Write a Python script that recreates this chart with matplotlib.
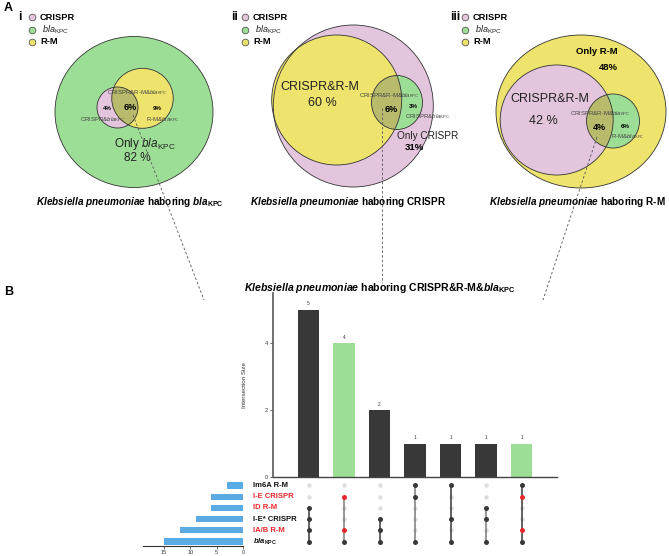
import matplotlib
matplotlib.use('Agg')
import matplotlib.pyplot as plt
from matplotlib.patches import Ellipse
import matplotlib.transforms as mtransforms

plt.rcParams['font.family'] = ['Liberation Sans', 'DejaVu Sans']
plt.rcParams['mathtext.fontset'] = 'custom'
plt.rcParams['mathtext.rm'] = 'Liberation Sans'
plt.rcParams['mathtext.it'] = 'Liberation Sans:italic'
plt.rcParams['mathtext.bf'] = 'Liberation Sans:bold'
plt.rcParams['mathtext.bfit'] = 'Liberation Sans:italic:bold'

# ---------------- data ----------------
legend_sets = ['CRISPR', r'$\mathit{bla}_{\mathrm{KPC}}$', 'R-M']
# panel i: K. pneumoniae harboring blaKPC
panel_i_regions = ['CRISPR&bla', 'CRISPR&R-M&bla', 'R-M&bla', 'Only bla']
panel_i_pct = [4, 6, 9, 82]
# panel ii: K. pneumoniae harboring CRISPR
panel_ii_regions = ['CRISPR&R-M', 'CRISPR&R-M&bla', 'CRISPR&bla', 'Only CRISPR']
panel_ii_pct = [60, 6, 3, 31]
# panel iii: K. pneumoniae harboring R-M
panel_iii_regions = ['CRISPR&R-M', 'CRISPR&R-M&bla', 'R-M&bla', 'Only R-M']
panel_iii_pct = [42, 4, 6, 48]

# panel B: UpSet
upset_sets = ['Im6A R-M', 'I-E CRISPR', 'ID R-M', 'I-E* CRISPR', 'IA/B R-M',
              r'$\mathbfit{bla}_{\mathbf{KPC}}$']
set_sizes = [3, 6, 6, 9, 12, 15]
red_sets = [1, 2, 4]
intersection_sizes = [5, 4, 2, 1, 1, 1, 1]
intersection_members = [[2, 3, 4, 5], [1, 4, 5], [3, 4, 5], [0, 1, 5],
                        [0, 3, 5], [2, 3, 5], [0, 1, 4, 5]]
highlight_cols = [False, True, False, False, False, False, True]
ytick_vals = [0, 2, 4]
set_ticks = [15, 10, 5, 0]

# ---------------- style ----------------
GREEN = '#9DDE97'
PINK = '#E3C5DE'
YELLOW = '#EEE36C'
OLIVE = '#B8BB6B'
EDGE = '#333333'
RED = '#E8262B'
DARK = '#383838'
BLUE = '#5AABE3'

W, H = 669, 556
fig = plt.figure(figsize=(W / 100, H / 100), dpi=100)
ax0 = fig.add_axes([0, 0, 1, 1])
ax0.set_xlim(0, W)
ax0.set_ylim(H, 0)
ax0.axis('off')


def px_axes(l, t, w, h):
    return fig.add_axes([l / W, 1 - (t + h) / H, w / W, h / H])


def ell(c, w, h, fc, z, clip=None):
    e = Ellipse(c, w, h, facecolor=fc, edgecolor='none', zorder=z)
    ax0.add_patch(e)
    if clip is not None:
        e.set_clip_path(clip)
    return e


def edge(c, w, h, z=5):
    ax0.add_patch(Ellipse(c, w, h, facecolor='none', edgecolor=EDGE, lw=0.6, zorder=z))


# ---- panel labels ----
ax0.text(4, 2, 'A', fontsize=9, fontweight='bold', va='top', ha='left')
ax0.text(4, 292, 'B', fontsize=9, fontweight='bold', va='center', ha='left')
for x, s in [(20, 'i'), (235, 'ii'), (455, 'iii')]:
    ax0.text(x, 17, s, fontsize=8.5, fontweight='bold', va='center', ha='center')

# ---- legends ----
leg_cols = [PINK, GREEN, YELLOW]
for lx in [32, 245, 465]:
    for k, (s, c) in enumerate(zip(legend_sets, leg_cols)):
        yy = 17 + k * 12.5
        ax0.plot(lx, yy, 'o', ms=4.8, mfc=c, mec='#555555', mew=0.6, zorder=6)
        if k == 1:
            ax0.text(lx + 10, yy, s, fontsize=6.5, va='center', ha='left', color='#222222')
        else:
            ax0.text(lx + 8, yy, s, fontsize=6.7, fontweight='bold', va='center', ha='left')

# ---- panel i ----
c_big, c_p, c_y = (134, 112), (117.5, 107.5), (142.5, 98.3)
ell(c_big, 158, 151, GREEN, 1)
ell(c_p, 41, 41, PINK, 2)
yel = ell(c_y, 61.5, 60, YELLOW, 2)
ell(c_p, 41, 41, OLIVE, 3, clip=yel)
edge(c_big, 158, 151)
edge(c_p, 41, 41)
edge(c_y, 61.5, 60)
ax0.text(107, 108, f'{panel_i_pct[0]}%', fontsize=4.5, fontweight='bold', ha='center', va='center', zorder=7)
ax0.text(130, 108, f'{panel_i_pct[1]}%', fontsize=6.5, fontweight='bold', ha='center', va='center', zorder=7)
ax0.text(157, 108, f'{panel_i_pct[2]}%', fontsize=4.5, fontweight='bold', ha='center', va='center', zorder=7)
ax0.text(137, 93, r'CRISPR&R-M&$\mathit{bla}_{\mathrm{KPC}}$', fontsize=4.3, color='#444444', ha='center', va='center', zorder=7)
ax0.text(103, 120, r'CRISPR&$\mathit{bla}_{\mathrm{KPC}}$', fontsize=4.3, color='#444444', ha='center', va='center', zorder=7)
ax0.text(163, 120, r'R-M&$\mathit{bla}_{\mathrm{KPC}}$', fontsize=4.3, color='#444444', ha='center', va='center', zorder=7)
ax0.text(145, 144, r'Only $\mathit{bla}_{\mathrm{KPC}}$', fontsize=8.5, ha='center', va='center', zorder=7, color='#222222')
ax0.text(137, 158, f'{panel_i_pct[3]} %', fontsize=8.5, ha='center', va='center', zorder=7, color='#222222')

# ---- panel ii ----
c_big2, c_y2, c_g2 = (353.3, 106), (336.7, 100), (397, 102.5)
ell(c_big2, 160, 162, PINK, 1)
yel2 = ell(c_y2, 130, 130, YELLOW, 2)
ell(c_g2, 51, 54, GREEN, 2)
ell(c_g2, 51, 54, OLIVE, 3, clip=yel2)
edge(c_big2, 160, 162)
edge(c_y2, 130, 130)
edge(c_g2, 51, 54)
ax0.text(320, 87, 'CRISPR&R-M', fontsize=9, ha='center', va='center', zorder=7, color='#222222')
ax0.text(322, 103, f'{panel_ii_pct[0]} %', fontsize=9, ha='center', va='center', zorder=7, color='#222222')
ax0.text(389, 96, r'CRISPR&R-M&$\mathit{bla}_{\mathrm{KPC}}$', fontsize=4.3, color='#444444', ha='center', va='center', zorder=7)
ax0.text(391, 109, f'{panel_ii_pct[1]}%', fontsize=6.5, fontweight='bold', ha='center', va='center', zorder=7)
ax0.text(413, 106, f'{panel_ii_pct[2]}%', fontsize=4.5, fontweight='bold', ha='center', va='center', zorder=7)
ax0.text(405, 117, r'CRISPR&$\mathit{bla}_{\mathrm{KPC}}$', fontsize=4.3, color='#444444', ha='left', va='center', zorder=7)
ax0.text(397, 136, 'Only CRISPR', fontsize=7.2, ha='left', va='center', zorder=7, color='#222222')
ax0.text(414, 148, f'{panel_ii_pct[3]}%', fontsize=6.8, fontweight='bold', ha='center', va='center', zorder=7)

# ---- panel iii ----
c_big3, c_p3, c_g3 = (581, 111.5), (556.7, 120), (613, 121)
ell(c_big3, 170, 153, YELLOW, 1)
pink3 = ell(c_p3, 113, 110, PINK, 2)
ell(c_g3, 53, 54, GREEN, 2)
ell(c_g3, 53, 54, OLIVE, 3, clip=pink3)
edge(c_big3, 170, 153)
edge(c_p3, 113, 110)
edge(c_g3, 53, 54)
ax0.text(597, 51, 'Only R-M', fontsize=6.8, fontweight='bold', ha='center', va='center', zorder=7)
ax0.text(608, 68, f'{panel_iii_pct[3]}%', fontsize=6.8, fontweight='bold', ha='center', va='center', zorder=7)
ax0.text(550, 99, 'CRISPR&R-M', fontsize=9, ha='center', va='center', zorder=7, color='#222222')
ax0.text(543, 121, f'{panel_iii_pct[0]} %', fontsize=9, ha='center', va='center', zorder=7, color='#222222')
ax0.text(600, 114, r'CRISPR&R-M&$\mathit{bla}_{\mathrm{KPC}}$', fontsize=4.3, color='#444444', ha='center', va='center', zorder=7)
ax0.text(599, 128, f'{panel_iii_pct[1]}%', fontsize=6.5, fontweight='bold', ha='center', va='center', zorder=7)
ax0.text(625, 126, f'{panel_iii_pct[2]}%', fontsize=4.5, fontweight='bold', ha='center', va='center', zorder=7)
ax0.text(628, 137, r'R-M&$\mathit{bla}_{\mathrm{KPC}}$', fontsize=4.3, color='#444444', ha='center', va='center', zorder=7)

# ---- panel titles ----
TFS = 7.2
ax0.text(130, 202, r'$\mathbfit{Klebsiella\ pneumoniae}$ haboring $\mathbfit{bla}_{\mathbf{KPC}}$',
         fontsize=TFS, fontweight='bold', ha='center', va='center')
ax0.text(348, 202, r'$\mathbfit{Klebsiella\ pneumoniae}$ haboring CRISPR',
         fontsize=TFS, fontweight='bold', ha='center', va='center')
ax0.text(666, 202, r'$\mathbfit{Klebsiella\ pneumoniae}$ haboring R-M',
         fontsize=TFS, fontweight='bold', ha='right', va='center')
ax0.text(380, 288, r'$\mathbfit{Klebsiella\ pneumoniae}$ haboring CRISPR&R-M&$\mathbfit{bla}_{\mathbf{KPC}}$',
         fontsize=7.6, fontweight='bold', ha='center', va='center')

# ---- dashed connector lines ----
for (x1, y1), (x2, y2) in [((133, 115), (204, 300)), ((382, 108), (382, 283)), ((597, 137), (543, 300))]:
    ax0.plot([x1, x2], [y1, y2], ls=(0, (3, 2.5)), color='#555555', lw=0.6, zorder=8)

# ---- UpSet: intersection bars ----
ncol = len(intersection_sizes)
axb = px_axes(273, 293, 284, 184)
cols = range(ncol)
bar_colors = [GREEN if h else DARK for h in highlight_cols]
axb.bar(cols, intersection_sizes, width=0.6, color=bar_colors)
for j, v in zip(cols, intersection_sizes):
    axb.text(j, v + 0.1, str(v), ha='center', va='bottom', fontsize=3.5, color='#333333')
axb.set_xlim(-1, ncol)
axb.set_ylim(0, 5.5)
axb.set_xticks([])
axb.set_yticks(ytick_vals)
axb.tick_params(axis='y', labelsize=4, length=2, width=0.5, pad=1.5, colors='#333333')
for s in ['top', 'right']:
    axb.spines[s].set_visible(False)
axb.spines['left'].set_color('#666666')
axb.spines['left'].set_linewidth(1.3)
axb.spines['bottom'].set_color('#444444')
axb.spines['bottom'].set_linewidth(1.0)
axb.set_ylabel('Intersection Size', fontsize=4.5, color='#333333')
axb.yaxis.set_label_coords(-0.09, 0.5)
axb.patch.set_alpha(0)

# ---- UpSet: matrix ----
nset = len(upset_sets)
axm = px_axes(273, 481, 284, 65)
axm.set_xlim(-1, ncol)
axm.set_ylim(nset - 0.6, -0.4)
axm.axis('off')
for j, mem in enumerate(intersection_members):
    inactive = [r for r in range(nset) if r not in mem]
    axm.plot([j] * len(inactive), inactive, 'o', ms=3.2, color='#DDDDDD', mec='none', zorder=1)
    lc = DARK if j % 2 == 0 else '#7A7A7A'
    axm.plot([j, j], [min(mem), max(mem)], color=lc, lw=1.1, zorder=2)
    for r in mem:
        c = RED if (highlight_cols[j] and r in red_sets) else DARK
        axm.plot(j, r, 'o', ms=3.6, color=c, mec='none', zorder=3)

# ---- set labels ----
trans = mtransforms.blended_transform_factory(ax0.transData, axm.transData)
for r, name in enumerate(upset_sets):
    c = RED if r in red_sets else '#111111'
    axm.text(253, r, name, transform=trans, fontsize=5.5, fontweight='bold', color=c,
             ha='left', va='center', clip_on=False)

# ---- set size bars ----
axs = px_axes(143, 481, 100, 65)
axs.barh(range(nset), set_sizes, height=0.55, color=BLUE)
axs.set_xlim(19, 0)
axs.set_ylim(nset - 0.6, -0.4)
axs.set_yticks([])
axs.set_xticks(set_ticks)
axs.tick_params(axis='x', labelsize=4, length=2, width=0.5, pad=1, colors='#333333')
for s in ['top', 'right', 'left']:
    axs.spines[s].set_visible(False)
axs.spines['bottom'].set_color('#333333')
axs.spines['bottom'].set_linewidth(0.8)
axs.patch.set_alpha(0)

fig.savefig('out.png', dpi=100)
